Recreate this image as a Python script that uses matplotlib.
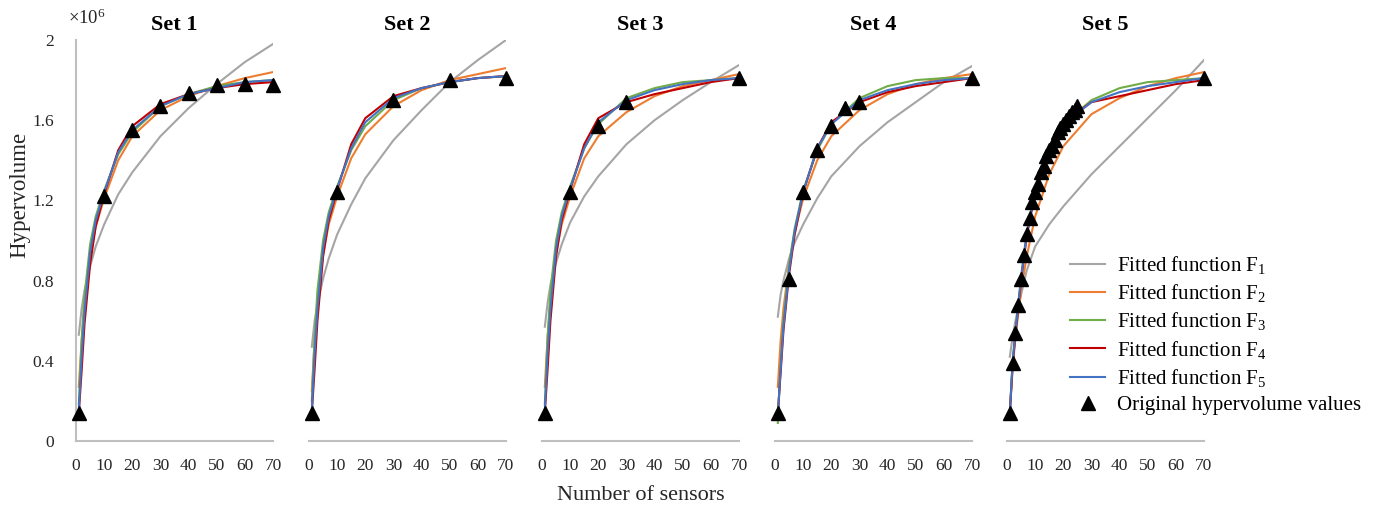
import matplotlib.pyplot as plt
import numpy as np

plt.rcParams['font.family'] = ['Liberation Serif', 'DejaVu Serif']
plt.rcParams['mathtext.fontset'] = 'custom'
plt.rcParams['mathtext.rm'] = 'Liberation Serif'
plt.rcParams['mathtext.it'] = 'Liberation Serif:italic'

# hypervolume values in units of 1e6
set_names = ["Set 1", "Set 2", "Set 3", "Set 4", "Set 5"]

orig_x = [
    [1, 10, 20, 30, 40, 50, 60, 70],
    [1, 10, 30, 50, 70],
    [1, 10, 20, 30, 70],
    [1, 5, 10, 15, 20, 25, 30, 70],
    [1, 2, 3, 4, 5, 6, 7, 8, 9, 10, 11, 12, 13, 14, 15, 16, 17, 18, 19, 20,
     21, 22, 23, 24, 25, 70],
]
orig_hv = [
    [0.14, 1.22, 1.55, 1.67, 1.735, 1.775, 1.78, 1.775],
    [0.14, 1.24, 1.70, 1.80, 1.81],
    [0.14, 1.24, 1.57, 1.69, 1.81],
    [0.14, 0.81, 1.24, 1.45, 1.57, 1.66, 1.69, 1.81],
    [0.14, 0.39, 0.54, 0.68, 0.81, 0.93, 1.03, 1.11, 1.19, 1.24, 1.28, 1.34,
     1.37, 1.42, 1.45, 1.47, 1.50, 1.54, 1.56, 1.58, 1.60, 1.62, 1.64, 1.65,
     1.67, 1.81],
]

# fitted curves at these sensor counts
fit_x = [1, 2, 3, 5, 7, 10, 15, 20, 30, 40, 50, 60, 70]
fit_F1 = [
    [0.53, 0.66, 0.75, 0.87, 0.97, 1.08, 1.23, 1.34, 1.52, 1.66, 1.78, 1.89, 1.98],
    [0.47, 0.60, 0.68, 0.81, 0.91, 1.03, 1.18, 1.31, 1.50, 1.65, 1.79, 1.90, 2.00],
    [0.57, 0.69, 0.78, 0.89, 0.98, 1.09, 1.22, 1.32, 1.48, 1.60, 1.70, 1.79, 1.875],
    [0.62, 0.73, 0.80, 0.91, 0.99, 1.08, 1.21, 1.32, 1.47, 1.59, 1.69, 1.79, 1.87],
    [0.42, 0.52, 0.60, 0.73, 0.85, 0.97, 1.08, 1.17, 1.33, 1.47, 1.61, 1.75, 1.90],
]
fit_F2 = [
    [0.27, 0.50, 0.68, 0.92, 1.07, 1.21, 1.40, 1.52, 1.65, 1.72, 1.77, 1.81, 1.84],
    [0.25, 0.50, 0.68, 0.93, 1.08, 1.22, 1.41, 1.53, 1.67, 1.75, 1.80, 1.83, 1.86],
    [0.27, 0.52, 0.70, 0.94, 1.08, 1.22, 1.41, 1.52, 1.64, 1.72, 1.77, 1.80, 1.83],
    [0.27, 0.50, 0.66, 0.88, 1.04, 1.21, 1.40, 1.52, 1.65, 1.73, 1.78, 1.81, 1.83],
    [0.14, 0.36, 0.52, 0.75, 0.92, 1.12, 1.33, 1.47, 1.63, 1.71, 1.77, 1.81, 1.84],
]
fit_F3 = [
    [0.18, 0.50, 0.72, 0.98, 1.12, 1.25, 1.43, 1.54, 1.67, 1.73, 1.77, 1.79, 1.80],
    [0.20, 0.52, 0.75, 1.00, 1.14, 1.27, 1.45, 1.57, 1.70, 1.76, 1.79, 1.81, 1.82],
    [0.18, 0.52, 0.75, 1.00, 1.14, 1.27, 1.46, 1.58, 1.71, 1.76, 1.79, 1.80, 1.81],
    [0.09, 0.38, 0.60, 0.88, 1.06, 1.25, 1.45, 1.58, 1.71, 1.77, 1.80, 1.81, 1.81],
    [0.14, 0.40, 0.55, 0.82, 1.04, 1.25, 1.46, 1.58, 1.70, 1.76, 1.79, 1.80, 1.81],
]
fit_F4 = [
    [0.14, 0.35, 0.58, 0.88, 1.07, 1.23, 1.45, 1.57, 1.68, 1.73, 1.76, 1.78, 1.79],
    [0.14, 0.36, 0.60, 0.92, 1.10, 1.25, 1.48, 1.61, 1.72, 1.76, 1.79, 1.81, 1.82],
    [0.14, 0.36, 0.60, 0.92, 1.10, 1.25, 1.48, 1.61, 1.69, 1.73, 1.76, 1.79, 1.81],
    [0.14, 0.34, 0.55, 0.83, 1.03, 1.24, 1.46, 1.59, 1.69, 1.74, 1.77, 1.79, 1.81],
    [0.14, 0.38, 0.53, 0.80, 1.02, 1.24, 1.46, 1.59, 1.69, 1.72, 1.75, 1.78, 1.80],
]
fit_F5 = [
    [0.15, 0.42, 0.64, 0.94, 1.10, 1.24, 1.44, 1.55, 1.67, 1.73, 1.76, 1.79, 1.80],
    [0.15, 0.44, 0.66, 0.96, 1.12, 1.26, 1.46, 1.59, 1.71, 1.76, 1.79, 1.81, 1.82],
    [0.15, 0.44, 0.66, 0.96, 1.12, 1.26, 1.46, 1.59, 1.70, 1.75, 1.78, 1.80, 1.81],
    [0.13, 0.36, 0.57, 0.85, 1.05, 1.24, 1.46, 1.58, 1.70, 1.75, 1.78, 1.80, 1.81],
    [0.14, 0.39, 0.54, 0.81, 1.03, 1.24, 1.46, 1.58, 1.69, 1.74, 1.77, 1.79, 1.81],
]

fit_labels = ["Fitted function F$_1$", "Fitted function F$_2$", "Fitted function F$_3$",
              "Fitted function F$_4$", "Fitted function F$_5$"]
fit_colors = ["#A5A5A5", "#ED7D31", "#70AD47", "#C00000", "#4472C4"]

W, H = 1379, 507
fig = plt.figure(figsize=(W / 100, H / 100), dpi=100)

panel_left = [76, 309, 542, 775, 1007]
axis_grey = "#BFBFBF"
text_col = "#262626"

for i in range(5):
    ax = fig.add_axes([panel_left[i] / W, (H - 441) / H, 197 / W, 401 / H])
    fits = [fit_F1[i], fit_F2[i], fit_F3[i], fit_F4[i], fit_F5[i]]
    for j in range(5):
        ax.plot(fit_x, fits[j], color=fit_colors[j], lw=1.5, label=fit_labels[j])
    ax.plot(orig_x[i], orig_hv[i], linestyle="none", marker="^", color="black",
            markersize=10, clip_on=False, zorder=5, label="Original hypervolume values")

    ax.set_xlim(0, 70)
    ax.set_ylim(0, 2)
    ax.set_xticks(np.arange(0, 71, 10))
    ax.tick_params(axis="x", length=0, pad=12, labelsize=12.5, colors=text_col)
    for s in ["top", "right"]:
        ax.spines[s].set_visible(False)
    ax.spines["bottom"].set_color(axis_grey)
    ax.spines["bottom"].set_linewidth(1.5)
    if i == 0:
        ax.spines["left"].set_color(axis_grey)
        ax.spines["left"].set_linewidth(1.5)
        ax.set_yticks([0, 0.4, 0.8, 1.2, 1.6, 2])
        ax.set_yticklabels(["0", "0.4", "0.8", "1.2", "1.6", "2"])
        ax.tick_params(axis="y", length=0, pad=16, labelsize=12.5, colors=text_col)
    else:
        ax.spines["left"].set_visible(False)
        ax.set_yticks([])
    ax.set_title(set_names[i], fontsize=16, fontweight="bold", pad=7)
    if i == 4:
        handles, labels = ax.get_legend_handles_labels()

fig.text(68 / W, 1 - 18 / H, "×10$^{6}$", fontsize=13.5, ha="left", va="center", color=text_col)
fig.text(20 / W, 1 - 195 / H, "Hypervolume", rotation=90, fontsize=16.5,
         ha="center", va="center", color=text_col)
fig.text(641 / W, 1 - 496 / H, "Number of sensors", fontsize=16,
         ha="center", va="center", color=text_col)

fig.legend(handles, labels, loc="upper left", bbox_to_anchor=(1070 / W, 1 - 254 / H),
           frameon=False, fontsize=15, handlelength=1.7, handletextpad=0.55,
           labelspacing=0.3, borderaxespad=0, borderpad=0)

fig.savefig("out.png", dpi=100)
